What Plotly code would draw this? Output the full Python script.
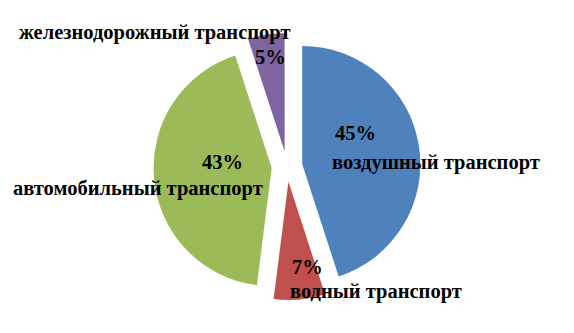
import plotly.graph_objects as go

labels = ["воздушный транспорт", "водный транспорт", "автомобильный транспорт", "железнодорожный транспорт"]
values = [45, 7, 43, 5]
colors = ["#4F81BD", "#C0504D", "#9BBB59", "#8064A2"]

# annotation placement (figure px) for percent and label of each slice
pct_pos = [(355, 133), (307, 267), (222, 162), (270, 57)]
lab_pos = [(436, 162), (376, 291), (138, 188), (155, 33)]

W, H = 574, 333
fig = go.Figure(go.Pie(
    labels=labels, values=values, sort=False, direction="clockwise", rotation=0,
    marker=dict(colors=colors, line=dict(width=0)),
    pull=[0.13] * 4, textinfo="none", hoverinfo="label+percent",
    domain=dict(x=[0, 1], y=[33 / H, 1 - 33 / H]),
))

font = dict(family="'Times New Roman', 'Liberation Serif', serif", size=20.5, color="black")
total = sum(values)
anns = []
for lab, v, (px, py), (lx, ly) in zip(labels, values, pct_pos, lab_pos):
    anns.append(dict(x=px / W, y=1 - py / H, xref="paper", yref="paper",
                     text=f"<b>{round(100 * v / total)}%</b>", showarrow=False, font=font,
                     xanchor="center", yanchor="middle"))
    anns.append(dict(x=lx / W, y=1 - ly / H, xref="paper", yref="paper",
                     text=f"<b>{lab}</b>", showarrow=False, font=font,
                     xanchor="center", yanchor="middle"))

fig.update_layout(
    width=W, height=H, margin=dict(l=0, r=0, t=0, b=0),
    showlegend=False, paper_bgcolor="white", annotations=anns,
)
fig.write_html("out.html")
